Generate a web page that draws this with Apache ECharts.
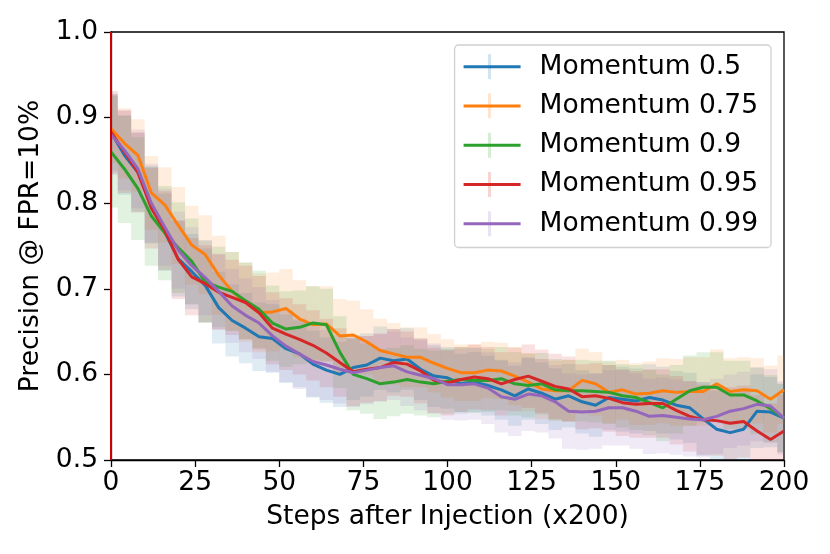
<!DOCTYPE html>
<html>
<head>
<meta charset="utf-8">
<script src="https://cdn.jsdelivr.net/npm/echarts@6/dist/echarts.min.js"></script>
<style>
  html, body { margin: 0; padding: 0; background: #fff; }
  #chart { width: 830px; height: 554px; }
</style>
</head>
<body>
<div id="chart"></div>
<script>
// steps after injection (every 4th logged step)
const steps = [0, 4, 8, 12, 16, 20, 24, 28, 32, 36, 40, 44, 48, 52, 56, 60, 64, 68, 72, 76, 80,
  84, 88, 92, 96, 100, 104, 108, 112, 116, 120, 124, 128, 132, 136, 140, 144, 148, 152, 156, 160,
  164, 168, 172, 176, 180, 184, 188, 192, 196, 200];

const seriesNames = ['Momentum 0.5', 'Momentum 0.75', 'Momentum 0.9', 'Momentum 0.95', 'Momentum 0.99'];
const colors = ['#1f77b4', '#ff7f0e', '#2ca02c', '#d62728', '#9467bd'];

const mom05 = [0.883, 0.856, 0.836, 0.798, 0.766, 0.735, 0.720, 0.704, 0.678, 0.663, 0.654, 0.644, 0.642,
  0.630, 0.624, 0.612, 0.605, 0.600, 0.608, 0.611, 0.619, 0.616, 0.618, 0.606, 0.598, 0.596, 0.589, 0.591,
  0.587, 0.582, 0.575, 0.583, 0.578, 0.571, 0.575, 0.568, 0.564, 0.573, 0.571, 0.569, 0.573, 0.570, 0.564,
  0.561, 0.548, 0.536, 0.532, 0.536, 0.557, 0.556, 0.549];
const mom075 = [0.887, 0.870, 0.856, 0.812, 0.798, 0.774, 0.751, 0.740, 0.716, 0.697, 0.684, 0.672, 0.673,
  0.677, 0.665, 0.658, 0.659, 0.645, 0.646, 0.638, 0.628, 0.624, 0.620, 0.620, 0.613, 0.607, 0.602, 0.602,
  0.605, 0.604, 0.598, 0.591, 0.583, 0.581, 0.581, 0.593, 0.589, 0.579, 0.582, 0.577, 0.578, 0.581, 0.579,
  0.580, 0.580, 0.589, 0.580, 0.582, 0.581, 0.571, 0.582];
const mom09 = [0.860, 0.840, 0.817, 0.785, 0.765, 0.748, 0.732, 0.708, 0.702, 0.697, 0.686, 0.676, 0.660,
  0.653, 0.655, 0.660, 0.658, 0.626, 0.600, 0.595, 0.589, 0.591, 0.594, 0.591, 0.589, 0.592, 0.594, 0.593,
  0.593, 0.595, 0.589, 0.587, 0.589, 0.582, 0.581, 0.581, 0.580, 0.579, 0.575, 0.573, 0.567, 0.561, 0.571,
  0.581, 0.585, 0.585, 0.576, 0.576, 0.569, 0.560, 0.549];
const mom095 = [0.883, 0.860, 0.836, 0.794, 0.768, 0.734, 0.714, 0.706, 0.696, 0.690, 0.684, 0.672, 0.654,
  0.647, 0.641, 0.634, 0.625, 0.614, 0.603, 0.606, 0.608, 0.614, 0.612, 0.604, 0.593, 0.590, 0.594, 0.597,
  0.595, 0.589, 0.594, 0.598, 0.592, 0.586, 0.583, 0.574, 0.575, 0.572, 0.567, 0.565, 0.566, 0.566, 0.558,
  0.551, 0.547, 0.546, 0.543, 0.545, 0.534, 0.524, 0.534];
const mom099 = [0.880, 0.862, 0.840, 0.800, 0.772, 0.745, 0.727, 0.713, 0.697, 0.680, 0.669, 0.660, 0.645,
  0.633, 0.624, 0.615, 0.611, 0.606, 0.602, 0.605, 0.608, 0.610, 0.603, 0.599, 0.595, 0.588, 0.588, 0.589,
  0.584, 0.574, 0.571, 0.577, 0.575, 0.568, 0.557, 0.556, 0.557, 0.561, 0.561, 0.557, 0.551, 0.552, 0.550,
  0.548, 0.547, 0.551, 0.557, 0.560, 0.565, 0.563, 0.549];

// half-length of the error bars
const err05 = [0.045, 0.046, 0.046, 0.045, 0.045, 0.044, 0.044, 0.043, 0.042, 0.042, 0.041, 0.040, 0.040,
  0.040, 0.039, 0.039, 0.038, 0.038, 0.038, 0.037, 0.037, 0.037, 0.036, 0.036, 0.036, 0.036, 0.035, 0.035,
  0.035, 0.035, 0.035, 0.036, 0.036, 0.036, 0.037, 0.037, 0.037, 0.038, 0.038, 0.038, 0.039, 0.039, 0.040,
  0.041, 0.043, 0.045, 0.046, 0.045, 0.043, 0.041, 0.040];
const err075 = [0.040, 0.041, 0.042, 0.043, 0.044, 0.045, 0.046, 0.046, 0.046, 0.046, 0.046, 0.046, 0.046,
  0.046, 0.045, 0.045, 0.044, 0.043, 0.040, 0.038, 0.037, 0.036, 0.035, 0.035, 0.034, 0.034, 0.033, 0.033,
  0.033, 0.033, 0.034, 0.034, 0.035, 0.035, 0.036, 0.037, 0.037, 0.036, 0.035, 0.036, 0.037, 0.038, 0.039,
  0.040, 0.040, 0.040, 0.039, 0.038, 0.038, 0.039, 0.040];
const err09 = [0.065, 0.063, 0.060, 0.058, 0.055, 0.053, 0.050, 0.048, 0.047, 0.046, 0.045, 0.045, 0.044,
  0.044, 0.043, 0.043, 0.042, 0.042, 0.042, 0.041, 0.041, 0.040, 0.040, 0.039, 0.039, 0.038, 0.038, 0.038,
  0.037, 0.037, 0.037, 0.037, 0.036, 0.036, 0.036, 0.036, 0.036, 0.037, 0.037, 0.038, 0.038, 0.039, 0.040,
  0.041, 0.041, 0.041, 0.040, 0.040, 0.039, 0.039, 0.040];
const err095 = [0.048, 0.048, 0.047, 0.047, 0.046, 0.046, 0.045, 0.045, 0.044, 0.044, 0.043, 0.043, 0.042,
  0.042, 0.041, 0.041, 0.040, 0.040, 0.040, 0.039, 0.039, 0.039, 0.038, 0.038, 0.038, 0.038, 0.038, 0.038,
  0.037, 0.037, 0.037, 0.037, 0.037, 0.038, 0.038, 0.038, 0.038, 0.039, 0.039, 0.039, 0.040, 0.040, 0.040,
  0.041, 0.041, 0.041, 0.042, 0.042, 0.042, 0.042, 0.042];
const err099 = [0.047, 0.047, 0.046, 0.046, 0.045, 0.045, 0.045, 0.044, 0.044, 0.043, 0.043, 0.042, 0.042,
  0.042, 0.041, 0.041, 0.041, 0.040, 0.040, 0.040, 0.040, 0.040, 0.040, 0.041, 0.041, 0.041, 0.042, 0.042,
  0.042, 0.042, 0.043, 0.043, 0.043, 0.043, 0.044, 0.044, 0.044, 0.044, 0.044, 0.044, 0.044, 0.044, 0.044,
  0.044, 0.044, 0.044, 0.043, 0.043, 0.043, 0.043, 0.043];

const xTicks = [0, 25, 50, 75, 100, 125, 150, 175, 200];
const yTicks = [0.5, 0.6, 0.7, 0.8, 0.9, 1.0];
const injectionStep = 0;

const means = [mom05, mom075, mom09, mom095, mom099];
const errs = [err05, err075, err09, err095, err099];

const font = 'DejaVu Sans';
const fontSize = 26.5;

const chart = echarts.init(document.getElementById('chart'), null, { renderer: 'canvas' });

function errorBars(mean, err, color) {
  return {
    type: 'custom',
    silent: true,
    clip: true,
    z: 1,
    encode: { x: 0, y: [1, 2] },
    data: steps.map((s, i) => [s, mean[i] - err[i], mean[i] + err[i]]),
    renderItem: (params, api) => {
      const lo = api.coord([api.value(0), api.value(1)]);
      const hi = api.coord([api.value(0), api.value(2)]);
      const w = api.size([steps[1] - steps[0], 0])[0];
      return {
        type: 'rect',
        shape: { x: lo[0] - w / 2, y: hi[1], width: w, height: lo[1] - hi[1] },
        style: { fill: color, opacity: 0.14 }
      };
    }
  };
}

const series = [];
means.forEach((m, i) => series.push(errorBars(m, errs[i], colors[i])));
means.forEach((m, i) => {
  series.push({
    name: seriesNames[i],
    type: 'line',
    z: 3,
    showSymbol: false,
    color: colors[i],
    lineStyle: { width: 3, color: colors[i] },
    data: steps.map((s, j) => [s, m[j]])
  });
});
// vertical marker at the injection step
series[series.length - 1].markLine = {
  silent: true,
  symbol: 'none',
  animation: false,
  label: { show: false },
  lineStyle: { color: '#cc0000', width: 2, type: 'solid' },
  data: [{ xAxis: injectionStep }]
};

// legend geometry, used for the faint error bar glyph in each legend handle
const legendTop = 45, legendPadTop = 2, legendRow = 39.3;

const options = {
  animation: false,
  backgroundColor: '#fff',
  grid: {
    left: 111, right: 46, top: 32, bottom: 94,
    show: true, borderColor: '#000', borderWidth: 1.3
  },
  xAxis: {
    type: 'value',
    min: xTicks[0],
    max: xTicks[xTicks.length - 1],
    interval: xTicks[1] - xTicks[0],
    name: 'Steps after Injection (x200)',
    nameLocation: 'middle',
    nameGap: 44,
    nameTextStyle: { fontFamily: font, fontSize: fontSize, color: '#000' },
    axisLine: { show: true, lineStyle: { color: '#000', width: 1.3 } },
    axisTick: { show: true, inside: false, length: 7, lineStyle: { color: '#000', width: 1.3 } },
    axisLabel: { fontFamily: font, fontSize: fontSize, color: '#000', margin: 10 },
    splitLine: { show: false }
  },
  yAxis: {
    type: 'value',
    min: yTicks[0],
    max: yTicks[yTicks.length - 1],
    interval: 0.1,
    name: 'Precision @ FPR=10%',
    nameLocation: 'middle',
    nameGap: 57,
    nameTextStyle: { fontFamily: font, fontSize: fontSize, color: '#000' },
    axisLine: { show: true, lineStyle: { color: '#000', width: 1.3 } },
    axisTick: { show: true, inside: false, length: 7, lineStyle: { color: '#000', width: 1.3 } },
    axisLabel: {
      fontFamily: font, fontSize: fontSize, color: '#000', margin: 13,
      formatter: v => v.toFixed(1)
    },
    splitLine: { show: false }
  },
  legend: {
    orient: 'vertical',
    right: 59,
    top: legendTop,
    data: seriesNames,
    icon: 'rect',
    itemWidth: 57,
    itemHeight: 3,
    itemGap: 0,
    padding: [legendPadTop, 13, 4, 9],
    backgroundColor: '#fff',
    borderColor: '#d0d0d0',
    borderWidth: 1.3,
    borderRadius: 4,
    textStyle: {
      fontFamily: font, fontSize: fontSize, color: '#000',
      lineHeight: legendRow, padding: [0, 0, 0, 14]
    }
  },
  graphic: seriesNames.map((n, i) => ({
    type: 'rect',
    z: 200,
    silent: true,
    shape: { x: 488, y: legendTop + legendPadTop + legendRow * (i + 0.5) - 12.5, width: 3, height: 25 },
    style: { fill: colors[i], opacity: 0.2 }
  })),
  series: series
};

chart.setOption(options);
</script>
</body>
</html>
